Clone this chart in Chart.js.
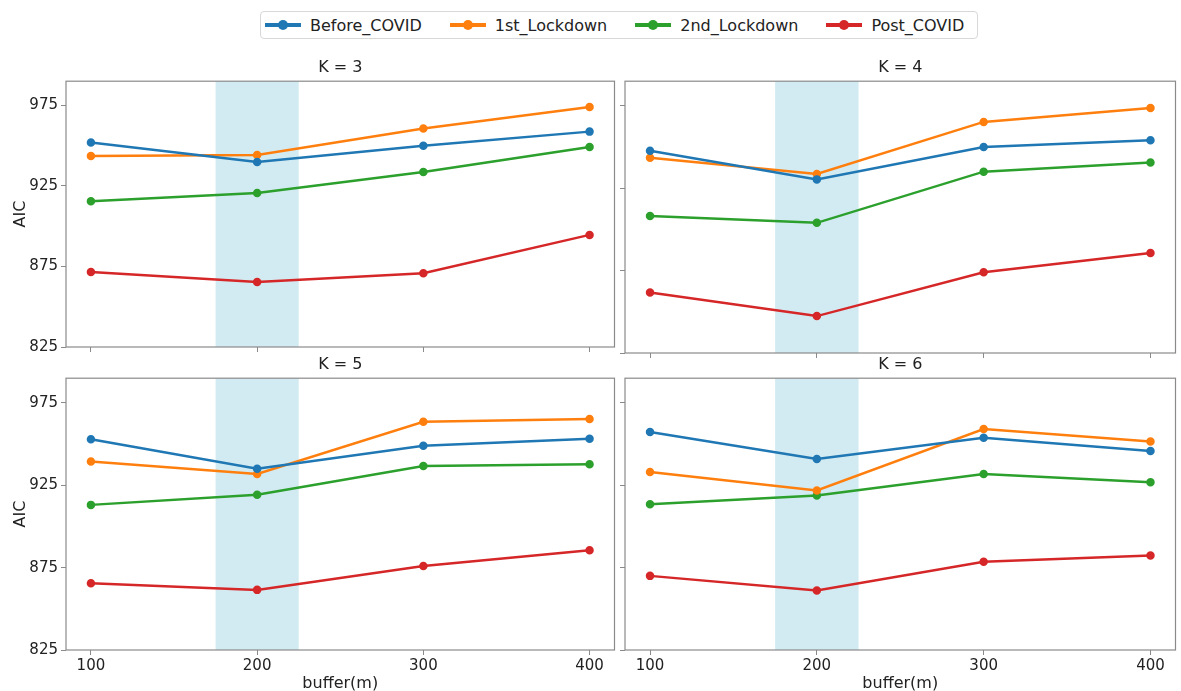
<!DOCTYPE html>
<html lang="en">
<head>
<meta charset="UTF-8">
<title>AIC by buffer</title>
<script src="https://cdn.jsdelivr.net/npm/chart.js"></script>
<style>
  body { margin: 0; background: #fff; font-family: "DejaVu Sans", sans-serif; }
  #wrap { position: relative; width: 1181px; height: 691px; overflow: hidden; }
  .panel { position: absolute; }
  .panel canvas { display: block; }
  #legend {
    position: absolute; left: 260px; top: 11px; width: 718px; height: 28px;
    border: 1px solid #d8d8d8; border-radius: 4px; box-sizing: border-box;
    display: flex; align-items: center; justify-content: flex-start;
    font-size: 16px; color: #222; padding: 0 0 0 4px;
  }
  .item { display: flex; align-items: center; margin-right: 28px; white-space: nowrap; }
  .swatch { position: relative; width: 36px; height: 4px; margin-right: 9px; }
  .swatch span { position: absolute; left: 13px; top: -3px; width: 10px; height: 10px; border-radius: 50%; }
</style>
</head>
<body>
<div id="wrap">
  <div id="legend"></div>
  <div class="panel" id="p3" style="left:0; top:58px; width:620px; height:301px"><canvas id="c3"></canvas></div>
  <div class="panel" id="p4" style="left:619px; top:58px; width:562px; height:301px"><canvas id="c4"></canvas></div>
  <div class="panel" id="p5" style="left:0; top:355px; width:620px; height:338px"><canvas id="c5"></canvas></div>
  <div class="panel" id="p6" style="left:619px; top:355px; width:562px; height:338px"><canvas id="c6"></canvas></div>
</div>

<script>
// data
const buffers = [100, 200, 300, 400];
const yTicks = [825, 875, 925, 975];
const bandRange = [175, 225];
const seriesNames = ['Before_COVID', '1st_Lockdown', '2nd_Lockdown', 'Post_COVID'];
const seriesColors = ['#1f77b4', '#ff7f0e', '#2ca02c', '#d62728'];

const k3Before = [952.0, 939.9, 950.0, 958.7];
const k3First  = [943.5, 944.2, 960.7, 974.0];
const k3Second = [915.5, 920.6, 933.7, 949.2];
const k3Post   = [871.6, 865.3, 870.8, 894.6];

const k4Before = [947.8, 930.4, 950.0, 954.2];
const k4First  = [943.5, 933.7, 965.3, 973.8];
const k4Second = [908.1, 904.0, 935.1, 940.7];
const k4Post   = [861.7, 847.4, 874.0, 885.7];

const k5Before = [953.0, 935.1, 949.0, 953.2];
const k5First  = [939.5, 931.9, 963.5, 965.3];
const k5Second = [913.1, 919.2, 936.7, 937.7];
const k5Post   = [865.5, 861.5, 876.0, 885.5];

const k6Before = [957.3, 940.9, 953.8, 945.8];
const k6First  = [933.1, 921.8, 959.1, 951.6];
const k6Second = [913.5, 918.8, 931.9, 926.8];
const k6Post   = [870.0, 861.1, 878.6, 882.3];

const panels = [
  { id: 'c3', title: 'K = 3', left: true,  bottom: false, series: [k3Before, k3First, k3Second, k3Post] },
  { id: 'c4', title: 'K = 4', left: false, bottom: false, series: [k4Before, k4First, k4Second, k4Post] },
  { id: 'c5', title: 'K = 5', left: true,  bottom: true,  series: [k5Before, k5First, k5Second, k5Post] },
  { id: 'c6', title: 'K = 6', left: false, bottom: true,  series: [k6Before, k6First, k6Second, k6Post] },
];

// legend
const legend = document.getElementById('legend');
seriesNames.forEach((name, i) => {
  const el = document.createElement('div');
  el.className = 'item';
  el.innerHTML = '<div class="swatch" style="background:' + seriesColors[i] + '"><span style="background:' +
    seriesColors[i] + '"></span></div>' + name;
  legend.appendChild(el);
});

// shaded band + full frame around each axes
const axesDecor = {
  id: 'axesDecor',
  beforeDatasetsDraw(chart) {
    const { ctx, chartArea, scales } = chart;
    const x0 = scales.x.getPixelForValue(bandRange[0]);
    const x1 = scales.x.getPixelForValue(bandRange[1]);
    ctx.save();
    ctx.fillStyle = 'rgba(173, 216, 230, 0.55)';
    ctx.fillRect(x0, chartArea.top, x1 - x0, chartArea.bottom - chartArea.top);
    ctx.restore();
  },
  afterDraw(chart) {
    const { ctx, chartArea } = chart;
    ctx.save();
    ctx.strokeStyle = '#8a8a8a';
    ctx.lineWidth = 1.2;
    ctx.strokeRect(chartArea.left, chartArea.top, chartArea.right - chartArea.left, chartArea.bottom - chartArea.top);
    ctx.restore();
  }
};

Chart.defaults.font.family = '"DejaVu Sans", sans-serif';
Chart.defaults.color = '#222';

panels.forEach(p => {
  new Chart(document.getElementById(p.id), {
    type: 'line',
    data: {
      datasets: p.series.map((vals, i) => ({
        label: seriesNames[i],
        data: buffers.map((b, j) => ({ x: b, y: vals[j] })),
        borderColor: seriesColors[i],
        backgroundColor: seriesColors[i],
        borderWidth: 2.5,
        pointRadius: 3,
        pointHoverRadius: 3,
        tension: 0
      }))
    },
    options: {
      responsive: true,
      maintainAspectRatio: false,
      animation: false,
      layout: { padding: { top: 0, right: p.left ? 2 : 3, bottom: 0, left: 0 } },
      plugins: {
        legend: { display: false },
        tooltip: { enabled: false },
        title: {
          display: true, text: p.title, color: '#222', fullSize: false,
          font: { size: 16, weight: 'normal' },
          padding: { top: 0, bottom: 4 }
        }
      },
      scales: {
        x: {
          type: 'linear', min: 85, max: 415,
          afterBuildTicks: s => { s.ticks = buffers.map(v => ({ value: v })); },
          afterFit: s => { s.height = p.bottom ? 43 : 6; },
          border: { display: false },
          grid: { drawOnChartArea: false, drawTicks: true, tickLength: 5, color: '#8a8a8a' },
          ticks: { display: p.bottom, font: { size: 15 }, color: '#222', padding: 2, maxRotation: 0 },
          title: { display: p.bottom, text: 'buffer(m)', font: { size: 16 }, color: '#222', padding: { top: 0, bottom: 0 } }
        },
        y: {
          min: 825, max: 990,
          afterBuildTicks: s => { s.ticks = yTicks.map(v => ({ value: v })); },
          afterFit: s => { s.width = p.left ? 66 : 6; },
          border: { display: false },
          grid: { drawOnChartArea: false, drawTicks: true, tickLength: 5, color: '#8a8a8a' },
          ticks: { display: p.left, font: { size: 15 }, color: '#222', padding: 3 },
          title: { display: p.left, text: 'AIC', font: { size: 16 }, color: '#222', padding: { top: 11, bottom: 4 } }
        }
      }
    },
    plugins: [axesDecor]
  });
});
</script>
</body>
</html>
